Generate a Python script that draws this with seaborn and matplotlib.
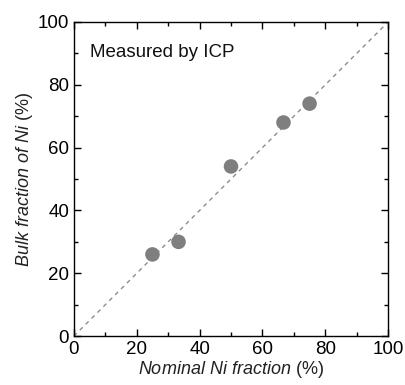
import matplotlib
matplotlib.use("Agg")
import matplotlib.pyplot as plt
import seaborn as sns
import pandas as pd
from matplotlib.ticker import MultipleLocator

nominal = [25, 33.3, 50, 66.7, 75]
bulk = [26, 30, 54, 68, 74]
ticks = [0, 20, 40, 60, 80, 100]

sns.set_theme(style="ticks")
plt.rcParams['font.family'] = ['Liberation Sans', 'DejaVu Sans']
plt.rcParams['mathtext.fontset'] = 'custom'
plt.rcParams['mathtext.rm'] = 'Liberation Sans'
plt.rcParams['mathtext.it'] = 'Liberation Sans:italic'

df = pd.DataFrame({"nominal": nominal, "bulk": bulk})

fig = plt.figure(figsize=(4.06, 3.85), dpi=100)
ax = fig.add_axes([0.182, 0.127, 0.774, 0.816])

# y = x reference line
ax.plot([0, 100], [0, 100], linestyle=(0, (3, 3)), color="#8c8c8c", linewidth=1.0, zorder=1)
sns.scatterplot(data=df, x="nominal", y="bulk", ax=ax, color="#7f7f7f", s=110,
                edgecolor="none", zorder=3, legend=False)

ax.set_xlim(0, 100)
ax.set_ylim(0, 100)
ax.set_xticks(ticks)
ax.set_yticks(ticks)
ax.xaxis.set_minor_locator(MultipleLocator(10))
ax.yaxis.set_minor_locator(MultipleLocator(10))
ax.tick_params(which="both", direction="in", top=True, right=True, colors="black",
               labelsize=13.5, width=1.0)
ax.tick_params(which="major", length=5)
ax.tick_params(which="minor", length=3)
for sp in ax.spines.values():
    sp.set_linewidth(1.0)
    sp.set_color("black")

ax.set_xlabel(r"$\it{Nominal\ Ni\ fraction}$ (%)", fontsize=13, color="#222222", labelpad=1)
ax.set_ylabel(r"$\it{Bulk\ fraction\ of\ Ni}$ (%)", fontsize=13, color="#222222", labelpad=2)
ax.text(0.051, 0.93, "Measured by ICP", transform=ax.transAxes, fontsize=13.5,
        ha="left", va="top", color="#111111")

fig.savefig("out.png", dpi=100)
